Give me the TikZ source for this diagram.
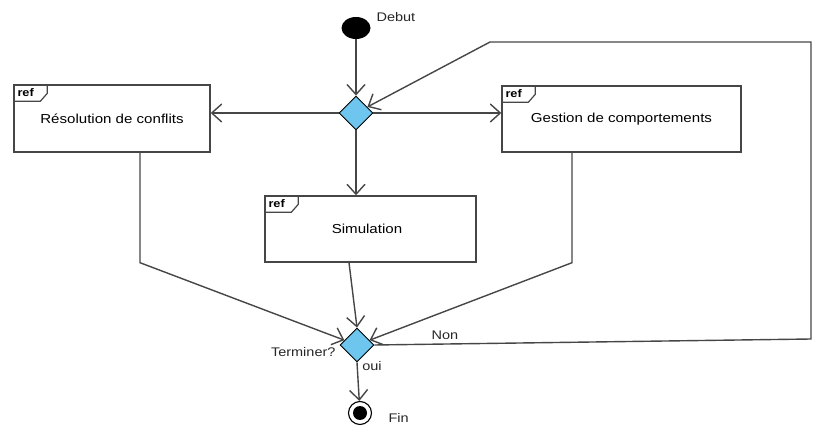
\documentclass[tikz,border=0pt]{standalone}
\usepackage{fontspec}
\newfontfamily\diagfont{Liberation Sans}[FakeStretch=1.16]
\usetikzlibrary{arrows.meta, positioning, shapes.geometric}
\definecolor{linegray}{RGB}{70,70,70}
\definecolor{decfill}{RGB}{110,198,238}

\begin{document}
\begin{tikzpicture}[
    x=1pt, y=-1pt,
    refbox/.style={draw=linegray, line width=1.4pt, font=\diagfont\fontsize{13}{15}\selectfont},
    decision/.style={diamond, draw=black, fill=decfill, line width=0.9pt, minimum width=34pt, minimum height=34pt, inner sep=0pt},
    label/.style={font=\diagfont\fontsize{12.5}{14}\selectfont, text=black!85},
    flow/.style={draw=linegray, line width=1.4pt, ->},
    >={Straight Barb[length=10pt, width=18pt]}
  ]
  \useasboundingbox (0,0) rectangle (817,427);

  % --- start and first decision ---
  \node[ellipse, fill=black, minimum width=29pt, minimum height=22pt, inner sep=0pt] (debut) at (356,28) {};
  \node[label, anchor=west] (debutlbl) at (373,17) {Debut};
  \node[decision] (d1) at (356,113) {};

  % --- ref boxes ---
  \node[refbox, minimum width=196pt, minimum height=67pt] (res) at (112,118.5) {Résolution de conflits};
  \node[refbox, minimum width=239pt, minimum height=66pt] (gest) at (621.5,119) {Gestion de comportements};
  \node[refbox, minimum width=211pt, minimum height=66pt] (sim) at (370.5,229) {\hspace*{-7pt}Simulation};
  \foreach \b in {res,gest,sim} {
    \draw[linegray, line width=1.2pt] (\b.north west) ++(0,17) -- ++(27,0) -- ++(7,-8) -- ++(0,-9);
    \node[font=\diagfont\bfseries\fontsize{11}{12}\selectfont, anchor=west, inner sep=0pt] at ([xshift=4pt, yshift=-8.5pt]\b.north west) {ref};
  }

  % --- second decision and end ---
  \node[decision] (d2) at (357,345) {};
  \node[label, anchor=east] (termlbl) at (339,352) {Terminer?};
  \node[draw=black, circle, line width=1.1pt, minimum size=23pt, inner sep=0pt] (fin) at (360,413) {};
  \fill (fin.center) circle (7pt);
  \node[label, anchor=west] (finlbl) at (385,418) {Fin};

  % --- flows ---
  \draw[flow] (debut) -- (d1);
  \draw[flow] (d1.west) -- (d1.west -| res.east);
  \draw[flow] (d1.east) -- (d1.east -| gest.west);
  \draw[flow] (d1.south) -- (d1.south |- sim.north);
  \draw[flow] ([xshift=28pt]res.south) -- ++(0,110) -- (d2);
  \draw[flow] ([xshift=-21.5pt]sim.south) -- (d2.north);
  \draw[flow] ([xshift=-49.5pt]gest.south) -- ++(0,110) -- (d2);
  \draw[flow] (d2.south) -- (fin)
    node[pos=0.1, right=1pt, label] {oui};

  % --- loop back ---
  \coordinate (lb) at (811,339);
  \coordinate (lt) at (811,42);
  \coordinate (lm) at (490,42);
  \draw[flow] (d2.east) -- (lb) -- (lt) -- (lm) -- (d1);
  \node[label] (nonlbl) at (445,335) {Non};

\end{tikzpicture}
\end{document}
